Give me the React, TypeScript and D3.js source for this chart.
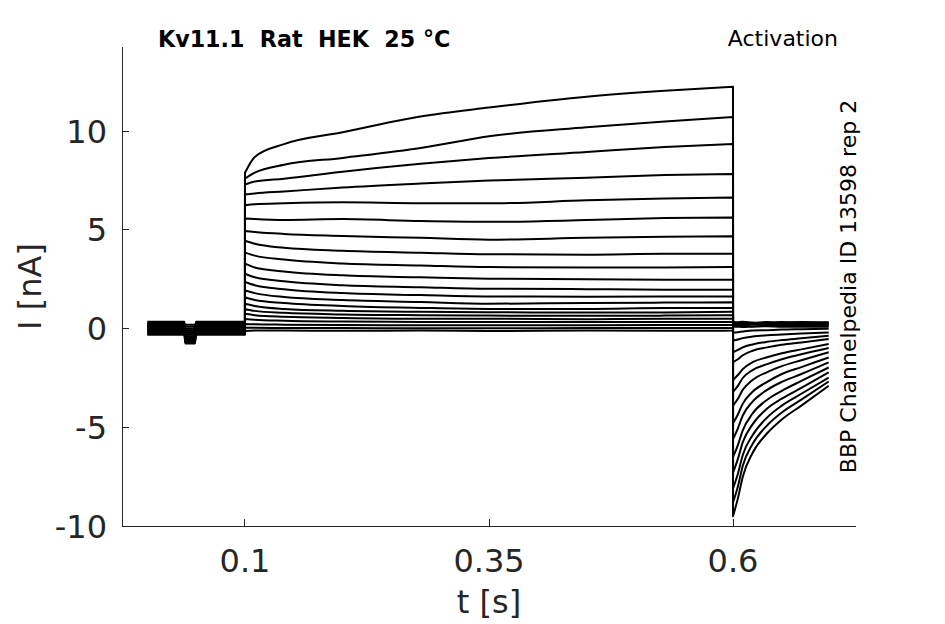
import React from "react";
import * as d3 from "d3";

// time grids (s)
const HOLD_T = [0, 0.038, 0.0388, 0.0488, 0.0496, 0.1];
const STEP_T = [0.1, 0.11, 0.14, 0.2, 0.28, 0.35, 0.45, 0.53, 0.6];
const TAIL_T = [0.6, 0.605, 0.61, 0.62, 0.635, 0.65, 0.67, 0.698];

// holding level and the small dip around 40-48 ms, per sweep (nA)
const HOLD_I = [0.3, 0.2, 0.1, 0.0, -0.1, -0.2, -0.3, 0.25, 0.15, 0.05, -0.05, -0.15, -0.25, 0.35, 0.2, 0.1, -0.1, -0.3, 0.0, 0.15, -0.2];
const DIP_I = [-0.3, -0.5, -0.7, -0.6, -0.4, -0.2, -0.1, 0.1, 0.2, -0.2, -0.4, -0.65, -0.75, -0.5, 0.0, -0.3, -0.55, -0.7, -0.2, -0.1, -0.45];

// activation step currents, per sweep (nA) at STEP_T
const STEP_I = [
  [7.9, 8.7, 9.35, 9.95, 10.75, 11.2, 11.75, 12.05, 12.25],
  [7.6, 7.9, 8.3, 8.65, 9.15, 9.75, 10.2, 10.5, 10.72],
  [7.3, 7.45, 7.6, 7.95, 8.35, 8.64, 8.95, 9.2, 9.36],
  [6.8, 6.85, 6.95, 7.15, 7.35, 7.5, 7.65, 7.78, 7.84],
  [6.25, 6.3, 6.35, 6.4, 6.35, 6.35, 6.5, 6.6, 6.65],
  [5.58, 5.55, 5.5, 5.55, 5.45, 5.41, 5.5, 5.6, 5.63],
  [4.95, 4.9, 4.8, 4.7, 4.6, 4.51, 4.6, 4.65, 4.68],
  [4.45, 4.3, 4.1, 3.95, 3.85, 3.77, 3.75, 3.8, 3.8],
  [3.85, 3.7, 3.5, 3.3, 3.2, 3.12, 3.1, 3.1, 3.12],
  [3.29, 3.1, 2.9, 2.7, 2.6, 2.53, 2.5, 2.48, 2.48],
  [2.78, 2.6, 2.4, 2.2, 2.1, 2.02, 2.0, 1.97, 1.97],
  [2.36, 2.2, 2.0, 1.8, 1.7, 1.63, 1.62, 1.63, 1.63],
  [1.93, 1.8, 1.6, 1.45, 1.35, 1.26, 1.3, 1.32, 1.34],
  [1.59, 1.45, 1.3, 1.15, 1.05, 1.0, 1.0, 1.05, 1.05],
  [1.26, 1.15, 1.0, 0.9, 0.85, 0.83, 0.82, 0.82, 0.85],
  [1.0, 0.9, 0.8, 0.72, 0.68, 0.66, 0.65, 0.66, 0.68],
  [0.75, 0.68, 0.6, 0.54, 0.5, 0.5, 0.48, 0.5, 0.5],
  [0.49, 0.45, 0.4, 0.36, 0.34, 0.33, 0.33, 0.33, 0.34],
  [0.24, 0.22, 0.2, 0.18, 0.17, 0.17, 0.17, 0.18, 0.18],
  [0.04, 0.04, 0.03, 0.03, 0.02, 0.02, 0.03, 0.03, 0.03],
  [-0.12, -0.1, -0.1, -0.11, -0.1, -0.12, -0.1, -0.11, -0.1],
];

// tail currents after repolarisation, per sweep (nA) at TAIL_T
const TAIL_I = [
  [-9.5, -8.6, -7.5, -6.3, -5.3, -4.6, -3.9, -2.9],
  [-8.8, -8.0, -6.95, -5.85, -4.9, -4.25, -3.6, -2.68],
  [-8.1, -7.35, -6.4, -5.4, -4.5, -3.9, -3.3, -2.48],
  [-7.3, -6.6, -5.75, -4.85, -4.05, -3.55, -3.0, -2.22],
  [-6.5, -5.9, -5.15, -4.3, -3.6, -3.15, -2.65, -1.97],
  [-5.6, -5.05, -4.4, -3.7, -3.1, -2.7, -2.3, -1.71],
  [-4.8, -4.35, -3.8, -3.2, -2.7, -2.3, -1.95, -1.46],
  [-3.9, -3.55, -3.1, -2.6, -2.2, -1.9, -1.6, -1.2],
  [-3.2, -2.9, -2.5, -2.1, -1.8, -1.55, -1.3, -0.98],
  [-2.6, -2.35, -2.05, -1.7, -1.45, -1.25, -1.05, -0.78],
  [-1.7, -1.55, -1.35, -1.12, -0.95, -0.82, -0.7, -0.52],
  [-1.2, -1.08, -0.95, -0.8, -0.67, -0.58, -0.49, -0.36],
  [-0.6, -0.55, -0.48, -0.4, -0.34, -0.3, -0.25, -0.19],
  [-0.2, -0.18, -0.15, -0.1, -0.08, -0.05, -0.03, 0],
  [0.1, 0.1, 0.08, 0.1, 0.12, 0.1, 0.1, 0.1],
  [0.2, 0.15, 0.18, 0.12, 0.15, 0.17, 0.14, 0.15],
  [0.25, 0.22, 0.2, 0.24, 0.2, 0.22, 0.2, 0.2],
  [0.3, 0.28, 0.26, 0.3, 0.25, 0.27, 0.28, 0.25],
  [0.35, 0.3, 0.32, 0.28, 0.3, 0.33, 0.3, 0.3],
  [0.3, 0.32, 0.35, 0.3, 0.33, 0.3, 0.34, 0.32],
  [0.25, 0.28, 0.3, 0.25, 0.28, 0.3, 0.27, 0.3],
];

const X_TICKS = [0.1, 0.35, 0.6];
const Y_TICKS = [-10, -5, 0, 5, 10];

const W = 945;
const H = 624;
const AXIS = "#262626";
const FONT = "DejaVu Sans, sans-serif";

const x = d3.scaleLinear().domain([-0.026, 0.726]).range([122, 856]);
const y = d3.scaleLinear().domain([-10, 14.27]).range([526, 47]);

const seg = d3.line<[number, number]>()
  .x(d => x(d[0]))
  .y(d => y(d[1]))
  .curve(d3.curveMonotoneX);

function tracePath(i: number): string {
  const h = HOLD_I[i];
  const d = DIP_I[i];
  const hold = HOLD_T.map((t, k) => [t, k === 2 || k === 3 ? d : h] as [number, number]);
  const step = STEP_T.map((t, k) => [t, STEP_I[i][k]] as [number, number]);
  const tail = TAIL_T.map((t, k) => [t, TAIL_I[i][k]] as [number, number]);
  // join the three epochs; later segments continue the path with "L"
  return [seg(hold)!, seg(step)!.replace(/^M/, "L"), seg(tail)!.replace(/^M/, "L")].join("");
}

export default function App() {
  const x0 = x.range()[0];
  const x1 = x.range()[1];
  const yb = y.range()[0];
  const yt = y.range()[1];
  const tick = 7;

  return (
    <svg width={W} height={H} style={{ position: "absolute", left: 0, top: 0, background: "#fff" }}
      fontFamily={FONT}>
      <rect width={W} height={H} fill="#fff" />

      {/* traces */}
      <g fill="none" stroke="#000" strokeWidth={2} strokeLinejoin="round">
        {STEP_I.map((_, i) => <path key={i} d={tracePath(i)} />)}
      </g>

      {/* axes */}
      <g stroke={AXIS} strokeWidth={1} fill="none" shapeRendering="crispEdges">
        <line x1={x0} x2={x0} y1={yt} y2={yb} />
        <line x1={x0} x2={x1} y1={yb} y2={yb} />
        {Y_TICKS.map(v => <line key={v} x1={x0} x2={x0 + tick} y1={y(v)} y2={y(v)} />)}
        {X_TICKS.map(v => <line key={v} x1={x(v)} x2={x(v)} y1={yb} y2={yb - tick} />)}
      </g>

      <g fill={AXIS} fontSize={32}>
        {Y_TICKS.map(v => (
          <text key={v} x={x0 - 15} y={y(v)} dy="0.36em" textAnchor="end">{v}</text>
        ))}
        {X_TICKS.map(v => (
          <text key={v} x={x(v)} y={572} textAnchor="middle">{v}</text>
        ))}
        <text x={(x0 + x1) / 2} y={613} textAnchor="middle">t [s]</text>
        <text transform={`translate(41,${(yt + yb) / 2}) rotate(-90)`} textAnchor="middle">I [nA]</text>
      </g>

      <text x={158} y={47} fontSize={22.2} fontWeight="bold" fill="#000" style={{ whiteSpace: "pre" }}>
        Kv11.1  Rat  HEK  25 °C
      </text>
      <text x={838} y={46} fontSize={22} textAnchor="end" fill="#000">Activation</text>
      <text transform={`translate(856,${(yt + yb) / 2}) rotate(-90)`} fontSize={22} textAnchor="middle" fill="#000">
        BBP Channelpedia ID 13598 rep 2
      </text>
    </svg>
  );
}
